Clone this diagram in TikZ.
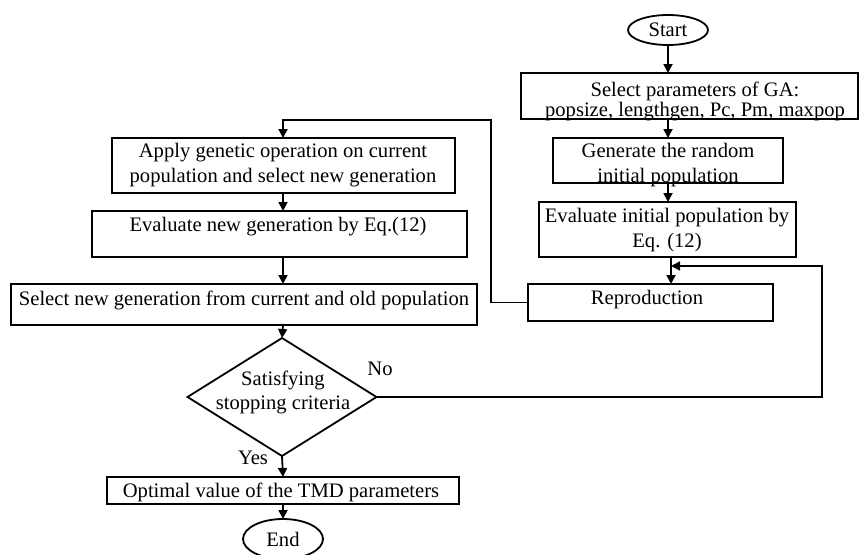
\documentclass[tikz,border=0pt]{standalone}
\usepackage{fontspec}
\setmainfont{Liberation Serif}
\usetikzlibrary{shapes.geometric,arrows.meta}
\begin{document}
\begin{tikzpicture}[x=1pt,y=-1pt,line width=1.8pt,
  box/.style={draw, rectangle, inner sep=0pt, outer sep=0pt},
  term/.style={draw, ellipse, inner sep=0pt, outer sep=0pt},
  decision/.style={draw, diamond, inner sep=0pt, outer sep=0pt},
  arr/.style={-{Triangle[length=9pt,width=9pt]}},
  lbl/.style={inner sep=0pt, align=center},
  font=\fontsize{20.6}{25}\selectfont]
\useasboundingbox (0,0) rectangle (859,554);
% right column
\node[term, minimum width=80, minimum height=30] (start) at (668,30) {Start};
\node[box, minimum width=337, minimum height=46] (params) at (689.5,96) {};
\node[lbl] (paramsT) at (695,101) {Select parameters of GA:\\[-5pt]popsize, lengthgen, Pc, Pm, maxpop};
\node[box, minimum width=230, minimum height=45] (gen) at (668,160.5) {};
\node[lbl] (genT) at (668,165.5) {Generate the random\\initial population};
\node[box, minimum width=257, minimum height=55] (evalinit) at (667.5,229.5) {};
\node[lbl] (evalinitT) at (667,230) {Evaluate initial population by\\Eq. (12)};
\node[box, minimum width=245, minimum height=37] (repro) at (650.5,302.5) {};
\node[lbl] (reproT) at (647,300) {Reproduction};
% left column
\node[box, minimum width=343, minimum height=55] (apply) at (283.5,165.5) {};
\node[lbl] (applyT) at (283,165) {Apply genetic operation on current\\population and select new generation};
\node[box, minimum width=375, minimum height=46] (evalnew) at (279.5,234) {};
\node[lbl] (evalnewT) at (278,227) {Evaluate new generation by Eq.(12)};
\node[box, minimum width=466, minimum height=41] (selnew) at (244,304.5) {};
\node[lbl] (selnewT) at (244,300) {Select new generation from current and old population};
\node[decision, minimum width=189, minimum height=118] (dec) at (282,397) {};
\node[lbl] (decT) at (283,392) {Satisfying\\[-1pt]stopping criteria};
\node[lbl] (no) at (380,369) {No};
\node[lbl] (yes) at (253,458) {Yes};
\node[box, minimum width=352, minimum height=27] (opt) at (283,490.5) {};
\node[lbl] (optT) at (281,492) {Optimal value of the TMD parameters};
\node[term, minimum width=80, minimum height=40] (end) at (283,539) {End};
% connectors right column
\draw[arr] (start.south) -- (start.south |- params.north);
\draw[arr] (gen.north |- params.south) -- (gen.north);
\draw[arr] (gen.south) -- (gen.south |- evalinit.north);
\coordinate (rcol) at (671,0);
\draw[arr] (rcol |- evalinit.south) -- (rcol |- repro.north);
% loop back from decision
\coordinate (fbR) at (822,266);
\draw[arr] (dec.east) -| (fbR) -- (rcol |- fbR);
% reproduction to apply
\coordinate (loopA) at (491,120);
\coordinate (lcol) at (283,0);
\draw[arr] (repro.west) -| (loopA) -- (lcol |- loopA) -- (lcol |- apply.north);
% left column
\draw[arr] (lcol |- apply.south) -- (lcol |- evalnew.north);
\draw[arr] (lcol |- evalnew.south) -- (lcol |- selnew.north);
\draw[arr] (lcol |- selnew.south) -- (dec.north);
\draw[arr] (dec.south) -- (lcol |- opt.north);
\draw[arr] (lcol |- opt.south) -- (end.north);
\end{tikzpicture}
\end{document}
